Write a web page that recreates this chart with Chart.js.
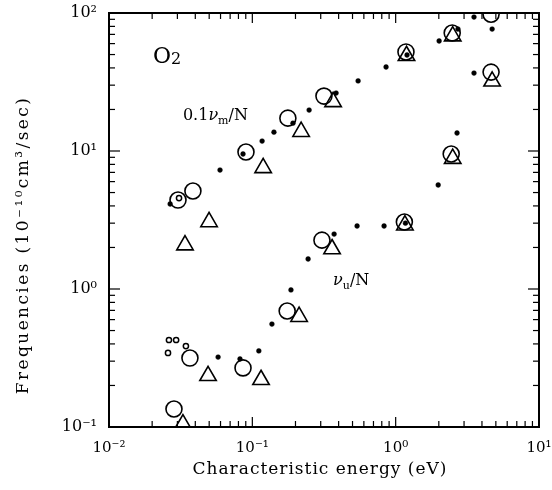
<!DOCTYPE html>
<html>
<head>
<meta charset="utf-8">
<script src="https://cdn.jsdelivr.net/npm/chart.js@4.4.1/dist/chart.umd.min.js"></script>
<style>
  html, body { margin: 0; padding: 0; background: #fff; }
  #wrap { width: 552px; height: 490px; }
</style>
</head>
<body>
<div id="wrap"><canvas id="freqChart"></canvas></div>
<script>
// characteristic energy (eV) vs frequency (1e-10 cm3/sec), O2

// 0.1 nu_m / N
const momDotsE = [0.0267, 0.0595, 0.0861, 0.117, 0.1415, 0.192, 0.249, 0.384, 0.547, 0.857, 1.20, 2.01, 2.72, 3.52, 4.71];
const momDotsF = [4.13, 7.28, 9.51, 11.8, 13.7, 15.9, 19.8, 26.3, 32.2, 40.6, 49.6, 62.7, 76.5, 93.5, 76.5];
const momCirclesE = [0.0303, 0.0385, 0.0903, 0.177, 0.316, 1.18, 2.48, 4.63];
const momCirclesF = [4.41, 5.13, 9.84, 17.3, 25.0, 52.2, 71.6, 98];
const momSmallE = [0.0308];
const momSmallF = [4.56];
const momTrianglesE = [0.0339, 0.0499, 0.119, 0.219, 0.366, 1.19, 2.5];
const momTrianglesF = [2.08, 3.06, 7.55, 13.8, 22.7, 49, 68];

// nu_u / N
const upDotsE = [0.0577, 0.082, 0.111, 0.137, 0.186, 0.245, 0.372, 0.538, 0.830, 1.17, 1.98, 2.68, 3.52];
const upDotsF = [0.321, 0.311, 0.356, 0.557, 0.984, 1.65, 2.50, 2.86, 2.86, 3.0, 5.67, 13.5, 36.7];
const upCirclesE = [0.0284, 0.0367, 0.0861, 0.175, 0.306, 1.15, 2.44, 4.63];
const upCirclesF = [0.135, 0.316, 0.268, 0.693, 2.26, 3.06, 9.51, 37.3];
const upSmallE = [0.0262, 0.0294, 0.0344, 0.0258];
const upSmallF = [0.427, 0.427, 0.386, 0.344];
const upTrianglesE = [0.0328, 0.0491, 0.115, 0.212, 0.360, 1.16, 2.50, 4.71];
const upTrianglesF = [0.105, 0.235, 0.22, 0.63, 1.95, 2.9, 8.8, 32];

const decadeLabels = { '-2': '10\u207B\u00B2', '-1': '10\u207B\u00B9', '0': '10\u2070', '1': '10\u00B9', '2': '10\u00B2' };

const xTitle = 'Characteristic energy (eV)';
const yTitle = 'Frequencies (10\u207B\u00B9\u2070cm\u00B3/sec)';

const serif = '"DejaVu Serif", "Liberation Serif", serif';

function toPoints(xs, ys) {
  return xs.map((x, i) => ({ x: x, y: ys[i] }));
}

const markerStyles = {
  dot: { pointStyle: 'circle', pointRadius: 2.4, pointBackgroundColor: '#000', pointBorderColor: '#000', pointBorderWidth: 0.5 },
  circle: { pointStyle: 'circle', pointRadius: 8, pointBackgroundColor: 'rgba(0,0,0,0)', pointBorderColor: '#000', pointBorderWidth: 1.6 },
  small: { pointStyle: 'circle', pointRadius: 2.6, pointBackgroundColor: 'rgba(0,0,0,0)', pointBorderColor: '#000', pointBorderWidth: 1.5 },
  triangle: { pointStyle: 'triangle', pointRadius: 9.5, pointBackgroundColor: 'rgba(0,0,0,0)', pointBorderColor: '#000', pointBorderWidth: 1.6 }
};

function makeSet(label, xs, ys, kind) {
  return Object.assign({
    label: label,
    data: toPoints(xs, ys),
    showLine: false,
    clip: 0
  }, markerStyles[kind]);
}

const isDecade = v => Math.abs(Math.log10(v) - Math.round(Math.log10(v))) < 1e-6;

// inward tick marks on all four sides, frame, titles and the in-plot labels
const frameAndTicks = {
  id: 'frameAndTicks',
  afterDatasetsDraw(chart) {
    const { ctx, chartArea: a, scales } = chart;
    const xs = scales.x, ys = scales.y;
    ctx.save();
    ctx.strokeStyle = '#000';
    ctx.lineWidth = 1.2;

    function seg(x1, y1, x2, y2) {
      ctx.beginPath();
      ctx.moveTo(x1, y1);
      ctx.lineTo(x2, y2);
      ctx.stroke();
    }

    function logTicks(min, max) {
      const out = [];
      for (let e = Math.floor(Math.log10(min)); e <= Math.ceil(Math.log10(max)); e++) {
        for (let m = 1; m < 10; m++) {
          const v = m * Math.pow(10, e);
          if (v >= min * 0.999 && v <= max * 1.001) out.push(v);
        }
      }
      return out;
    }

    logTicks(xs.min, xs.max).forEach(v => {
      const px = xs.getPixelForValue(v);
      const len = isDecade(v) ? 10 : 6;
      seg(px, a.bottom, px, a.bottom - len);
      seg(px, a.top, px, a.top + len);
    });
    logTicks(ys.min, ys.max).forEach(v => {
      const py = ys.getPixelForValue(v);
      const len = isDecade(v) ? 11 : 6;
      seg(a.left, py, a.left + len, py);
      seg(a.right, py, a.right - len, py);
    });

    ctx.lineWidth = 2;
    ctx.strokeRect(a.left, a.top, a.right - a.left, a.bottom - a.top);

    // text made of runs: [text, font, baseline shift]
    function runs(x, y, parts) {
      ctx.fillStyle = '#000';
      ctx.textBaseline = 'alphabetic';
      ctx.textAlign = 'left';
      let cx = x;
      parts.forEach(p => {
        ctx.font = p[1];
        ctx.fillText(p[0], cx, y + p[2]);
        cx += ctx.measureText(p[0]).width;
      });
    }

    runs(xs.getPixelForValue(0.0203), ys.getPixelForValue(43.5), [
      ['O', '22px ' + serif, 0],
      ['2', '16px ' + serif, 1]
    ]);
    runs(xs.getPixelForValue(0.0328), ys.getPixelForValue(16.8), [
      ['0.1', '16px ' + serif, 0],
      ['\u03BD', 'italic 16px ' + serif, 0],
      ['m', '11px ' + serif, 4],
      ['/N', '16px ' + serif, 0]
    ]);
    runs(xs.getPixelForValue(0.366), ys.getPixelForValue(1.07), [
      ['\u03BD', 'italic 16px ' + serif, 0],
      ['u', '11px ' + serif, 4],
      ['/N', '16px ' + serif, 0]
    ]);

    // axis titles
    ctx.fillStyle = '#000';
    ctx.font = '17px ' + serif;
    ctx.textAlign = 'center';
    ctx.textBaseline = 'middle';
    ctx.letterSpacing = '1px';
    ctx.fillText(xTitle, (a.left + a.right) / 2 - 4, 470);

    ctx.save();
    ctx.translate(24, 245);
    ctx.rotate(-Math.PI / 2);
    ctx.letterSpacing = '2.4px';
    ctx.fillText(yTitle, 0, 0);
    ctx.restore();

    ctx.restore();
  }
};

const ctx = document.getElementById('freqChart');
new Chart(ctx, {
  type: 'scatter',
  data: {
    datasets: [
      makeSet('0.1 nu_m/N dots', momDotsE, momDotsF, 'dot'),
      makeSet('0.1 nu_m/N circles', momCirclesE, momCirclesF, 'circle'),
      makeSet('0.1 nu_m/N small', momSmallE, momSmallF, 'small'),
      makeSet('0.1 nu_m/N triangles', momTrianglesE, momTrianglesF, 'triangle'),
      makeSet('nu_u/N dots', upDotsE, upDotsF, 'dot'),
      makeSet('nu_u/N circles', upCirclesE, upCirclesF, 'circle'),
      makeSet('nu_u/N small', upSmallE, upSmallF, 'small'),
      makeSet('nu_u/N triangles', upTrianglesE, upTrianglesF, 'triangle')
    ]
  },
  options: {
    responsive: true,
    maintainAspectRatio: false,
    animation: false,
    layout: { padding: { top: 13, right: 13, left: 0, bottom: 0 } },
    plugins: {
      legend: { display: false },
      tooltip: { enabled: false }
    },
    scales: {
      x: {
        type: 'logarithmic',
        min: 0.01,
        max: 10,
        grid: { display: false, drawTicks: false },
        border: { display: false },
        afterFit: scale => {
          scale.height = 63;
          scale.paddingLeft = 0;
          scale.paddingRight = 0;
        },
        ticks: {
          autoSkip: false,
          maxRotation: 0,
          padding: 12,
          color: '#000',
          font: { family: serif, size: 15 },
          callback: v => isDecade(v) ? decadeLabels[Math.round(Math.log10(v))] : ''
        }
      },
      y: {
        type: 'logarithmic',
        min: 0.1,
        max: 100,
        grid: { display: false, drawTicks: false },
        border: { display: false },
        afterFit: scale => {
          scale.width = 109;
          scale.paddingTop = 0;
          scale.paddingBottom = 0;
        },
        ticks: {
          autoSkip: false,
          padding: 12,
          color: '#000',
          font: { family: serif, size: 16 },
          callback: v => isDecade(v) ? decadeLabels[Math.round(Math.log10(v))] : ''
        }
      }
    }
  },
  plugins: [frameAndTicks]
});
</script>
</body>
</html>
